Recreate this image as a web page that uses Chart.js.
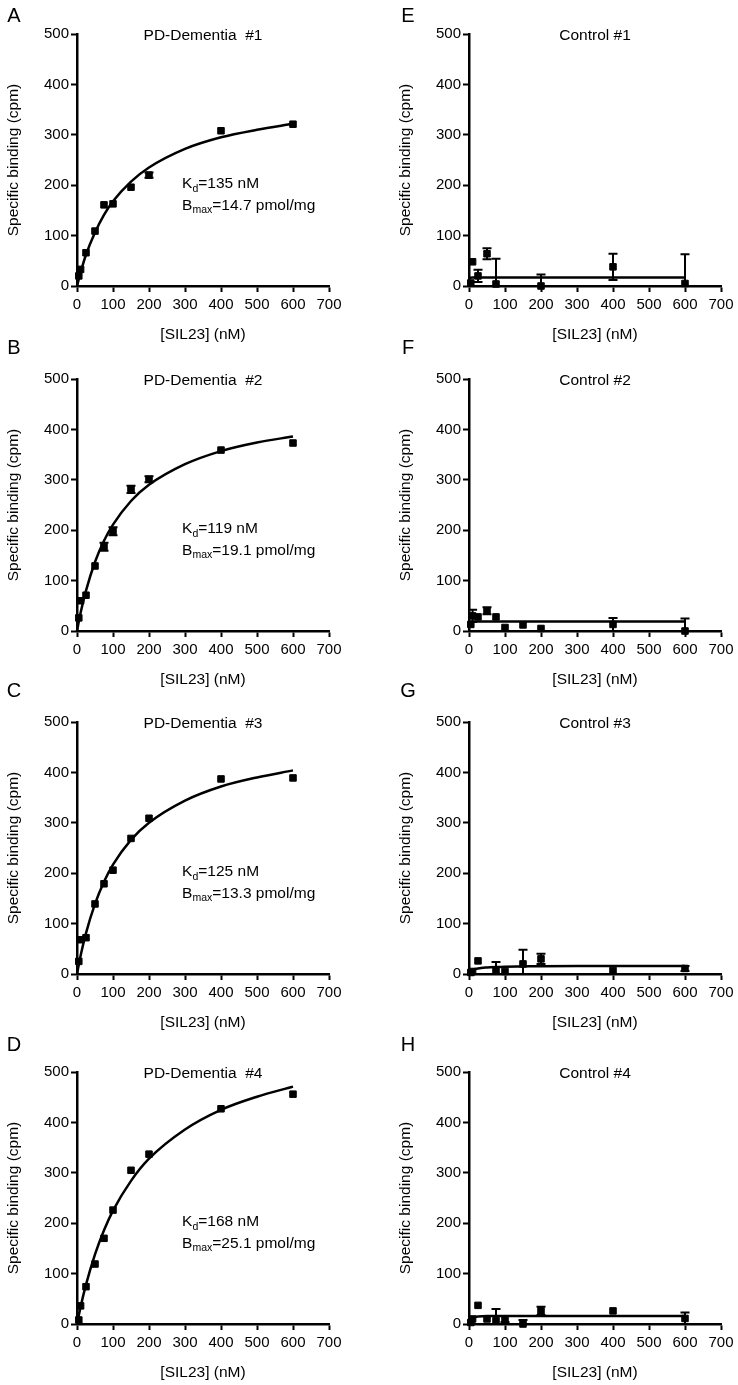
<!DOCTYPE html>
<html>
<head>
<meta charset="utf-8">
<script src="https://cdn.jsdelivr.net/npm/chart.js@4.4.0/dist/chart.umd.min.js"></script>
<style>
  body { margin: 0; background: #fff; width: 738px; height: 1385px; position: relative; overflow: hidden; }
  canvas { position: absolute; }
</style>
</head>
<body>
<script>
// SIL23 concentrations (nM) and specific binding (cpm)
const concPD = [5, 10, 25, 50, 75, 100, 150, 200, 400, 600];
const bindA = [20, 33, 66, 109, 161, 163, 196, 220, 308, 321];
const errA  = [0, 0, 0, 0, 0, 0, 0, 5, 0, 0];
const bindB = [26, 60, 71, 129, 167, 198, 281, 301, 359, 373];
const errB  = [0, 0, 0, 0, 8, 8, 7, 6, 0, 0];
const bindC = [25, 68, 72, 139, 179, 206, 269, 309, 387, 389];
const errC  = [0, 0, 0, 0, 0, 0, 0, 0, 0, 0];
const bindD = [8, 36, 74, 119, 170, 226, 305, 337, 427, 456];
const errD  = [0, 0, 0, 0, 0, 0, 0, 0, 0, 0];

const concE = [5, 10, 25, 50, 75, 200, 400, 600];
const bindE = [6, 48, 20, 64, 4, 0, 38, 5];
const errE  = [0, 0, 12, 11, 50, 23, 26, 58];
const concF = [5, 10, 25, 50, 75, 100, 150, 200, 400, 600];
const bindF = [13, 30, 28, 40, 28, 7, 12, 5, 13, 0];
const errF  = [0, 12, 0, 7, 0, 0, 0, 0, 13, 25];
const concG = [5, 10, 25, 75, 100, 150, 200, 400, 600];
const bindG = [3, 5, 26, 8, 5, 20, 30, 7, 11];
const errG  = [0, 0, 0, 16, 0, 28, 10, 0, 5];
const concH = [5, 10, 25, 50, 75, 100, 150, 200, 400, 600];
const bindH = [3, 10, 37, 10, 7, 10, 0, 26, 26, 11];
const errH  = [0, 0, 0, 0, 23, 6, 8, 8, 0, 12];

// fitted curves
const fitConc = [0, 10, 25, 50, 75, 100, 150, 200, 300, 400, 500, 600];
const fitA = [0, 27, 62, 106, 141, 168, 207, 235, 272, 295, 310, 322];
const fitB = [0, 36, 80, 137, 179, 211, 258, 290, 331, 357, 374, 386];
const fitC = [0, 36, 81, 139, 183, 217, 266, 300, 344, 372, 390, 404];
const fitD = [0, 34, 78, 138, 186, 225, 284, 328, 386, 425, 451, 471];
const fitE = [16, 17, 17, 17, 17, 17, 17, 17, 17, 17, 17, 17];
const fitF = [18, 19, 19, 19, 19, 19, 19, 19, 19, 19, 19, 19];
const fitG = [0, 8, 11, 13, 14, 14.5, 15, 15.5, 16, 16, 16, 16];
const fitH = [10, 13, 15, 16, 16, 16, 16, 16, 16, 16, 16, 16];

const FONT = '"Liberation Sans", Arial, sans-serif';
const TEXT = '#000';

const rowTop = [-6, 339, 682, 1032];
const letterY = [22, 9, 9, 13];

const panels = [
  { letter: 'A', title: 'PD-Dementia  #1', conc: concPD, bind: bindA, err: errA, fit: fitA, kd: '135', bmax: '14.7', col: 0, row: 0 },
  { letter: 'B', title: 'PD-Dementia  #2', conc: concPD, bind: bindB, err: errB, fit: fitB, kd: '119', bmax: '19.1', col: 0, row: 1 },
  { letter: 'C', title: 'PD-Dementia  #3', conc: concPD, bind: bindC, err: errC, fit: fitC, kd: '125', bmax: '13.3', col: 0, row: 2 },
  { letter: 'D', title: 'PD-Dementia  #4', conc: concPD, bind: bindD, err: errD, fit: fitD, kd: '168', bmax: '25.1', col: 0, row: 3 },
  { letter: 'E', title: 'Control #1', conc: concE, bind: bindE, err: errE, fit: fitE, col: 1, row: 0 },
  { letter: 'F', title: 'Control #2', conc: concF, bind: bindF, err: errF, fit: fitF, col: 1, row: 1 },
  { letter: 'G', title: 'Control #3', conc: concG, bind: bindG, err: errG, fit: fitG, col: 1, row: 2 },
  { letter: 'H', title: 'Control #4', conc: concH, bind: bindH, err: errH, fit: fitH, col: 1, row: 3 }
];

// vertical error bars with caps, clipped to the plot area
const errorBars = {
  id: 'errorBars',
  afterDatasetsDraw(chart) {
    const { ctx, chartArea, scales: { x, y } } = chart;
    chart.data.datasets.forEach(ds => {
      if (!ds.errors) return;
      ctx.save();
      ctx.beginPath();
      ctx.rect(chartArea.left, chartArea.top, chartArea.width, chartArea.height);
      ctx.clip();
      ctx.strokeStyle = '#000';
      ctx.lineWidth = 2;
      ds.data.forEach((pt, i) => {
        const e = ds.errors[i];
        if (!e) return;
        const px = x.getPixelForValue(pt.x);
        const top = y.getPixelForValue(pt.y + e);
        const bot = y.getPixelForValue(pt.y - e);
        ctx.beginPath();
        ctx.moveTo(px, top); ctx.lineTo(px, bot);
        ctx.moveTo(px - 4.5, top); ctx.lineTo(px + 4.5, top);
        ctx.moveTo(px - 4.5, bot); ctx.lineTo(px + 4.5, bot);
        ctx.stroke();
      });
      ctx.restore();
    });
  }
};

function drawSub(ctx, x, y, main, sub, rest) {
  ctx.textAlign = 'left';
  ctx.font = '15.5px ' + FONT;
  ctx.fillText(main, x, y);
  x += ctx.measureText(main).width;
  ctx.font = '10.5px ' + FONT;
  ctx.fillText(sub, x, y + 5);
  x += ctx.measureText(sub).width;
  ctx.font = '15.5px ' + FONT;
  ctx.fillText(rest, x, y);
}

const panelText = {
  id: 'panelText',
  afterDraw(chart, args, opts) {
    const { ctx, chartArea, scales: { x, y } } = chart;
    ctx.save();
    ctx.fillStyle = TEXT;
    ctx.textBaseline = 'middle';
    ctx.textAlign = 'center';
    ctx.font = '20px ' + FONT;
    ctx.fillText(opts.letter, opts.letterX, opts.letterY);
    ctx.font = '15.5px ' + FONT;
    ctx.fillText(opts.title, (chartArea.left + chartArea.right) / 2, chartArea.top + 2);
    if (opts.kd) {
      const tx = x.getPixelForValue(292);
      drawSub(ctx, tx, y.getPixelForValue(203), 'K', 'd', '=' + opts.kd + ' nM');
      drawSub(ctx, tx, y.getPixelForValue(160), 'B', 'max', '=' + opts.bmax + ' pmol/mg');
    }
    ctx.restore();
  }
};

panels.forEach(p => {
  const el = document.createElement('canvas');
  el.width = 369;
  el.height = 352;
  el.style.left = (p.col * 369) + 'px';
  el.style.top = rowTop[p.row] + 'px';
  document.body.appendChild(el);

  const padL = p.col === 0 ? 0 : 23;
  new Chart(el.getContext('2d'), {
    type: 'scatter',
    data: {
      datasets: [
        {
          type: 'line',
          data: fitConc.map((c, i) => ({ x: c, y: p.fit[i] })),
          borderColor: '#000',
          borderWidth: 2.5,
          pointRadius: 0,
          fill: false,
          cubicInterpolationMode: 'monotone',
          clip: false,
          order: 2
        },
        {
          data: p.conc.map((c, i) => ({ x: c, y: p.bind[i] })),
          errors: p.err,
          pointStyle: 'rect',
          pointRadius: 4.6,
          backgroundColor: '#000',
          borderColor: '#000',
          borderWidth: 1,
          clip: false,
          order: 1
        }
      ]
    },
    options: {
      responsive: false,
      animation: false,
      devicePixelRatio: 1,
      layout: { padding: { left: padL, right: 40 - padL, top: 40, bottom: 0 } },
      plugins: {
        legend: { display: false },
        tooltip: { enabled: false },
        panelText: {
          letter: p.letter,
          letterX: p.col === 0 ? 14 : 39,
          letterY: letterY[p.row],
          title: p.title,
          kd: p.kd,
          bmax: p.bmax
        }
      },
      scales: {
        x: {
          type: 'linear',
          min: 0,
          max: 700,
          afterFit: s => { s.height = 60; },
          ticks: { stepSize: 100, color: TEXT, font: { family: FONT, size: 15 }, padding: 4, maxRotation: 0, autoSkip: false },
          grid: { drawOnChartArea: false, drawTicks: true, tickLength: 6, tickWidth: 2, tickColor: '#000', color: '#000' },
          border: { display: true, color: '#000', width: 2.5 },
          title: { display: true, text: '[SIL23] (nM)', color: TEXT, font: { family: FONT, size: 15.5 }, padding: { top: 0, bottom: 1.7 } }
        },
        y: {
          min: 0,
          max: 500,
          afterFit: s => { s.width = 77; },
          ticks: { stepSize: 100, color: TEXT, font: { family: FONT, size: 15 }, padding: 2 },
          grid: { drawOnChartArea: false, drawTicks: true, tickLength: 6, tickWidth: 2, tickColor: '#000', color: '#000' },
          border: { display: true, color: '#000', width: 2.5 },
          title: { display: true, text: 'Specific binding (cpm)', color: TEXT, font: { family: FONT, size: 15.5 }, padding: { top: 4.7, bottom: 0 } }
        }
      }
    },
    plugins: [errorBars, panelText]
  });
});
</script>
</body>
</html>
